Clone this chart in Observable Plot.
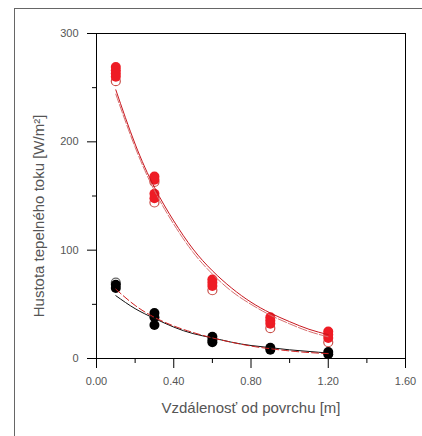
<!DOCTYPE html>
<html>
<head>
<meta charset="utf-8">
<script src="https://cdn.jsdelivr.net/npm/d3@7"></script>
<script src="https://cdn.jsdelivr.net/npm/@observablehq/plot@0.6"></script>
<style>
  body { margin: 0; background: #fff; }
  #wrap { position: relative; width: 422px; height: 436px; overflow: hidden; }
  #border { position: absolute; left: 14px; top: 8px; right: -2px; bottom: -2px;
            border-left: 1px solid #666; border-top: 1px solid #666; }
  #wrap svg { position: absolute; left: 0; top: 0; }
</style>
</head>
<body>
<div id="wrap"><div id="border"></div></div>
<script>
// Axis titles and ticks
const xTitle = "Vzdálenosť od povrchu [m]";
const yTitle = "Hustota tepelného toku [W/m²]";
const xMajor = [0, 0.4, 0.8, 1.2, 1.6];
const xMinor = [0.2, 0.6, 1.0, 1.4];
const yMajor = [0, 100, 200, 300];
const yMinor = [50, 150, 250];

// Red series – filled markers
const redFilledX = [0.1, 0.1, 0.1, 0.1, 0.3, 0.3, 0.3, 0.3, 0.6, 0.6, 0.6, 0.9, 0.9, 0.9, 1.2, 1.2, 1.2];
const redFilledY = [269, 266, 263, 260, 168, 165, 152, 148, 73, 70, 67, 38, 35, 32, 25, 22, 19];
// Red series – open markers
const redOpenX = [0.1, 0.3, 0.3, 0.6, 0.9, 1.2];
const redOpenY = [256, 163, 144, 63, 28, 15];
// Black series – filled markers
const blackFilledX = [0.1, 0.1, 0.3, 0.3, 0.3, 0.6, 0.6, 0.6, 0.9, 0.9, 1.2, 1.2];
const blackFilledY = [68, 65, 42, 38, 31, 20, 17, 15, 10, 8, 6, 4];
// Black series – open markers
const blackOpenX = [0.1];
const blackOpenY = [70];

// Fitted curves
const curveX = [0.1, 0.2, 0.3, 0.4, 0.5, 0.6, 0.7, 0.8, 0.9, 1.0, 1.1, 1.2];
const redFitA = [248, 198, 158, 127, 101, 81, 65, 52, 42, 34, 27, 22];
const redFitB = [244, 195, 155, 124, 98, 78, 62, 50, 40, 32, 25, 20];
const blackFitA = [58, 46, 37, 29, 23, 19, 15, 12, 10, 8, 6.5, 5];
const blackFitB = [64, 49, 38, 30, 24, 19, 15, 11.5, 9, 7, 5.5, 4.5];

const zip = (xs, ys) => xs.map((x, i) => ({x, y: ys[i]}));

const chart = Plot.plot({
  width: 422,
  height: 436,
  marginLeft: 96,
  marginRight: 17,
  marginTop: 33,
  marginBottom: 78,
  x: {domain: [0, 1.6]},
  y: {domain: [0, 300]},
  style: {fontFamily: "'Liberation Sans', Arial, sans-serif", fontSize: "11px", color: "#000", background: "transparent"},
  marks: [
    Plot.frame({stroke: "#000"}),
    Plot.axisX({ticks: xMajor, tickSize: 10, tickPadding: 9, tickFormat: d => d.toFixed(2), fill: "#555", label: null}),
    Plot.axisX({ticks: xMinor, tickSize: 5, tickFormat: () => "", label: null}),
    Plot.axisY({ticks: yMajor, tickSize: 9, tickPadding: 9, tickFormat: d => String(d), fill: "#555", label: null}),
    Plot.axisY({ticks: yMinor, tickSize: 4, tickFormat: () => "", label: null}),
    Plot.text([xTitle], {frameAnchor: "bottom", dy: 54, fontSize: 15, fill: "#555", textAnchor: "middle", letterSpacing: "-0.55px"}),
    Plot.text([yTitle], {frameAnchor: "left", rotate: -90, dx: -57, dy: 20, fontSize: 15, fill: "#555", textAnchor: "middle", letterSpacing: "0.4px"}),
    Plot.dot(zip(redOpenX, redOpenY), {x: "x", y: "y", r: 4.5, stroke: "#c8504a", strokeWidth: 1.2, fill: "none"}),
    Plot.dot(zip(redFilledX, redFilledY), {x: "x", y: "y", r: 5, fill: "#ee1c25", stroke: "none"}),
    Plot.dot(zip(blackOpenX, blackOpenY), {x: "x", y: "y", r: 4.5, stroke: "#666", strokeWidth: 1.2, fill: "none"}),
    Plot.dot(zip(blackFilledX, blackFilledY), {x: "x", y: "y", r: 5, fill: "#000", stroke: "none"}),
    Plot.line(zip(curveX, redFitB), {x: "x", y: "y", curve: "natural", stroke: "#d87070", strokeWidth: 1, strokeDasharray: "9,2"}),
    Plot.line(zip(curveX, redFitA), {x: "x", y: "y", curve: "natural", stroke: "#c8161e", strokeWidth: 1}),
    Plot.line(zip(curveX, blackFitA), {x: "x", y: "y", curve: "natural", stroke: "#111", strokeWidth: 1}),
    Plot.line(zip(curveX, blackFitB), {x: "x", y: "y", curve: "natural", stroke: "#d02020", strokeWidth: 1, strokeDasharray: "7,3"})
  ]
});
document.getElementById("wrap").appendChild(chart);
</script>
</body>
</html>
